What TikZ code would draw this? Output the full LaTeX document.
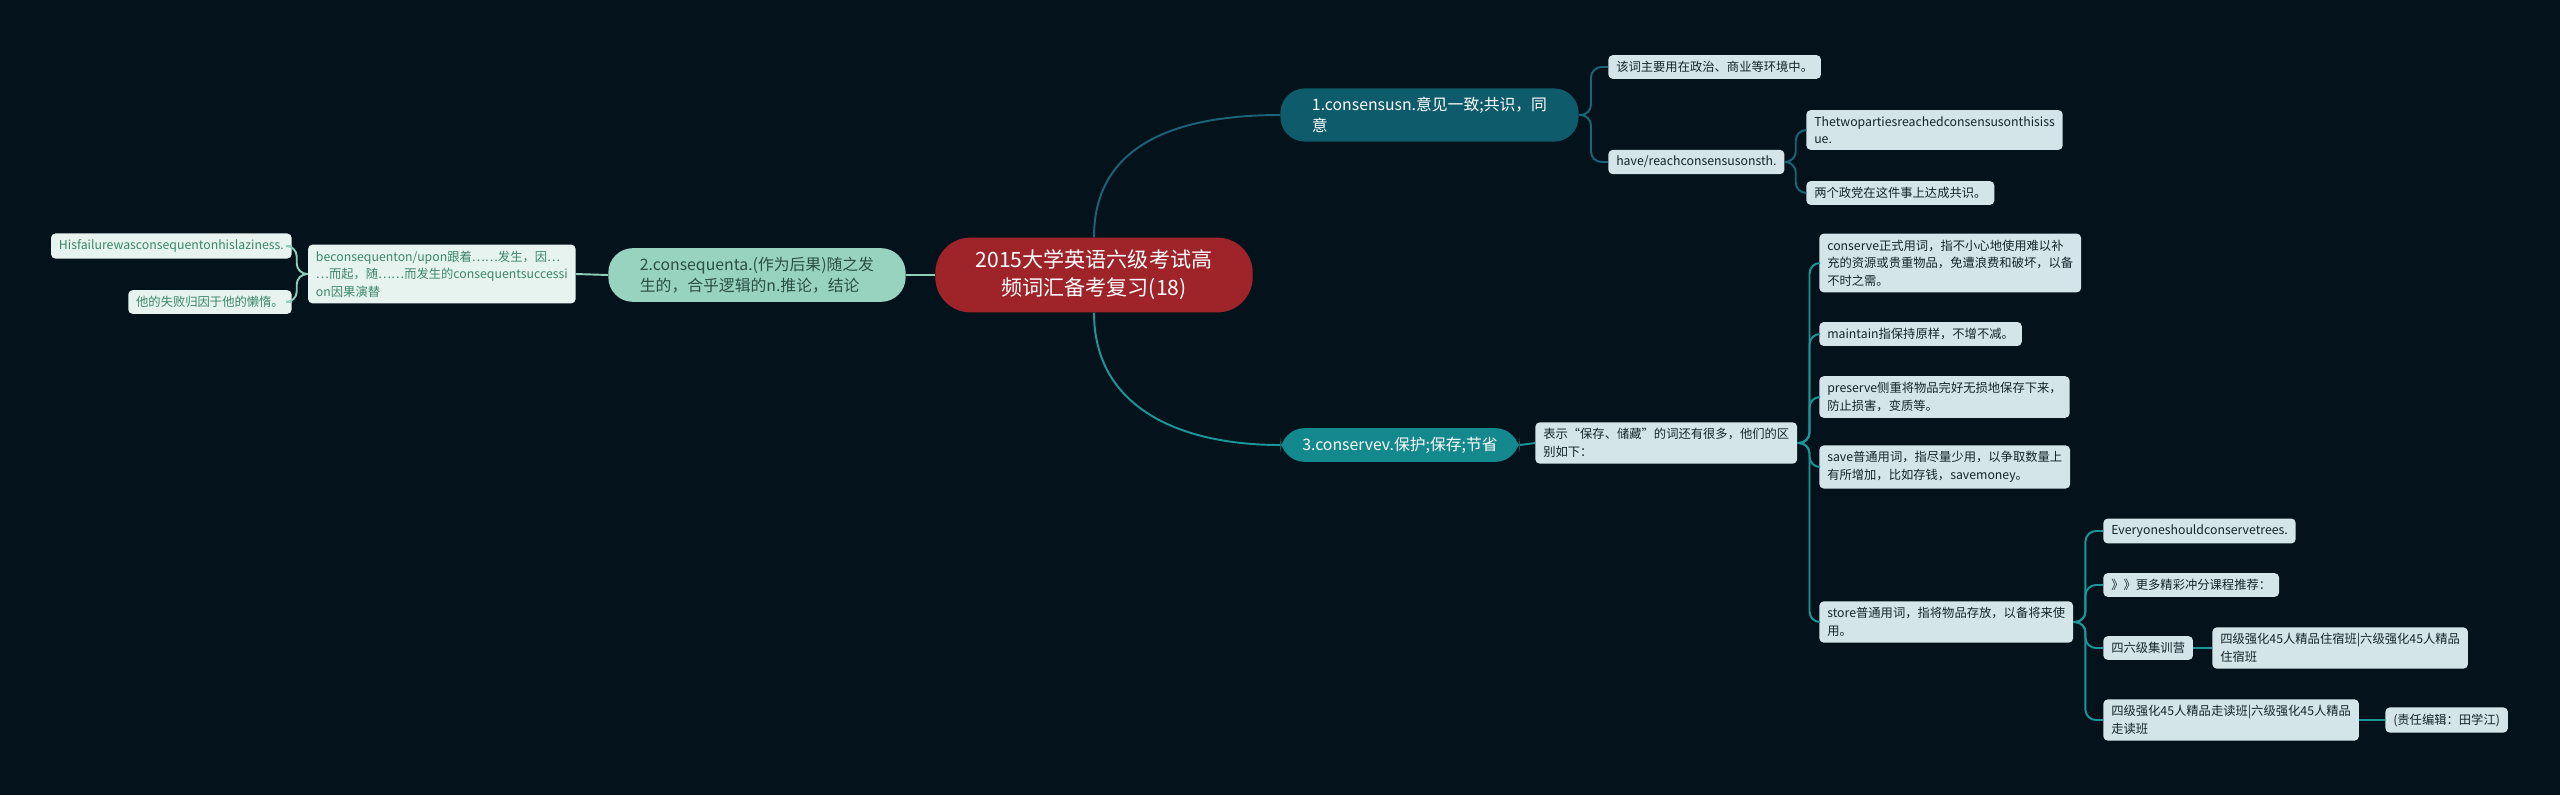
\documentclass[tikz,border=0pt]{standalone}
\usepackage{fontspec}
\setmainfont{Noto Sans CJK SC}

\definecolor{canvas}{HTML}{04131B}
\definecolor{rootred}{HTML}{9E242A}
\definecolor{topicone}{HTML}{0E5B6C}
\definecolor{topictwo}{HTML}{97D3BE}
\definecolor{topicthree}{HTML}{13888D}
\definecolor{lineone}{HTML}{1D6378}
\definecolor{linetwo}{HTML}{8ECDB8}
\definecolor{linethree}{HTML}{1C9699}
\definecolor{leafbg}{HTML}{D3E5E8}
\definecolor{leaftext}{HTML}{15252B}
\definecolor{mintbg}{HTML}{E7F3EE}
\definecolor{minttext}{HTML}{3A876A}
\definecolor{mintdark}{HTML}{2B4F45}

\tikzset{
  rootbox/.style={fill=rootred, text=white, rounded corners=20pt, inner xsep=23pt,
    inner ysep=7pt, align=center, font=\fontsize{12}{16}\selectfont},
  topic/.style={rounded corners=14pt, inner xsep=18pt, inner ysep=5pt, align=left,
    font=\fontsize{9}{12}\selectfont},
  leaf/.style={fill=leafbg, text=leaftext, rounded corners=2.5pt, inner xsep=4.5pt,
    inner ysep=3.5pt, align=left, font=\fontsize{7}{10}\selectfont},
  mintleaf/.style={leaf, fill=mintbg, text=minttext},
  link/.style={line width=1.1pt, rounded corners=6pt},
}

\begin{document}
\begin{tikzpicture}[x=0.02cm, y=-0.02cm]

    \fill[canvas] (0,0) rectangle (2560,795);
    \useasboundingbox (0,0) rectangle (2560,795);

    % centre and the three topics
    \node[rootbox] (root) at (1094,275) {2015大学英语六级考试高\\频词汇备考复习(18)};
    \node[topic, fill=topicone, text=white, anchor=west] (t1) at (1280,115)
      {1.consensusn.意见一致;共识，同\\意};
    \node[topic, fill=topictwo, text=mintdark, anchor=east] (t2) at (906,275)
      {2.consequenta.(作为后果)随之发\\生的，合乎逻辑的n.推论，结论};
    \node[topic, fill=topicthree, text=white, anchor=west, inner xsep=12.5pt] (t3) at (1280,445)
      {3.conservev.保护;保存;节省};

    \draw[link, lineone] (root.north) .. controls +(0,-95) and +(-100,0) .. (t1.west);
    \draw[link, linetwo] (root.west) -- (t2.east);
    \draw[link, linethree] (root.south) .. controls +(0,95) and +(-100,0) .. (t3.west);

    % consensus
    \node[leaf, anchor=west] (usage) at (1608,67) {该词主要用在政治、商业等环境中。};
    \node[leaf, anchor=west] (reach) at (1608,162) {have/reachconsensusonsth.};
    \node[leaf, anchor=west] (parties) at (1806,130)
      {Thetwopartiesreachedconsensusonthisiss\\ue.};
    \node[leaf, anchor=west] (parties-cn) at (1806,193) {两个政党在这件事上达成共识。};

    \foreach \n in {usage, reach}
      \draw[link, lineone] (t1.east) -- ++(12,0) |- (\n.west);
    \foreach \n in {parties, parties-cn}
      \draw[link, lineone] (reach.east) -- ++(11,0) |- (\n.west);

    % consequent
    \node[mintleaf, anchor=east] (upon) at (576,274)
      {beconsequenton/upon跟着……发生，因…\\…而起，随……而发生的consequentsuccessi\\on因果演替};
    \node[mintleaf, anchor=east] (failure) at (292,246) {Hisfailurewasconsequentonhislaziness.};
    \node[mintleaf, anchor=east] (failure-cn) at (292,302) {他的失败归因于他的懒惰。};

    \draw[link, linetwo] (t2.west) -- (upon.east);
    \foreach \n in {failure, failure-cn}
      \draw[link, linetwo] (upon.west) -- ++(-11,0) |- (\n.east);

    % conserve
    \node[leaf, anchor=west] (kinds) at (1535,443)
      {表示“保存、储藏”的词还有很多，他们的区\\别如下：};
    \node[leaf, anchor=west] (conserve) at (1819,263)
      {conserve正式用词，指不小心地使用难以补\\充的资源或贵重物品，免遭浪费和破坏，以备\\不时之需。};
    \node[leaf, anchor=west] (maintain) at (1819,334) {maintain指保持原样，不增不减。};
    \node[leaf, anchor=west] (preserve) at (1819,397)
      {preserve侧重将物品完好无损地保存下来，\\防止损害，变质等。};
    \node[leaf, anchor=west] (save) at (1819,467)
      {save普通用词，指尽量少用，以争取数量上\\有所增加，比如存钱，savemoney。};
    \node[leaf, anchor=west] (store) at (1819,622)
      {store普通用词，指将物品存放，以备将来使\\用。};

    \draw[link, linethree] (t3.east) -- (kinds.west);
    \foreach \n in {conserve, maintain, preserve, save, store}
      \draw[link, linethree] (kinds.east) -- ++(12,0) |- (\n.west);

    \node[leaf, anchor=west] (trees) at (2103,531) {Everyoneshouldconservetrees.};
    \node[leaf, anchor=west] (more) at (2103,585) {》》更多精彩冲分课程推荐：};
    \node[leaf, anchor=west] (camp) at (2103,648) {四六级集训营};
    \node[leaf, anchor=west] (stay) at (2212,648)
      {四级强化45人精品住宿班|六级强化45人精品\\住宿班};
    \node[leaf, anchor=west] (walk) at (2103,720)
      {四级强化45人精品走读班|六级强化45人精品\\走读班};
    \node[leaf, anchor=west] (editor) at (2385,720) {(责任编辑：田学江)};

    \foreach \n in {trees, more, camp, walk}
      \draw[link, linethree] (store.east) -- ++(12,0) |- (\n.west);
    \draw[link, linethree] (camp.east) -- (stay.west);
    \draw[link, linethree] (walk.east) -- (editor.west);
\end{tikzpicture}
\end{document}
